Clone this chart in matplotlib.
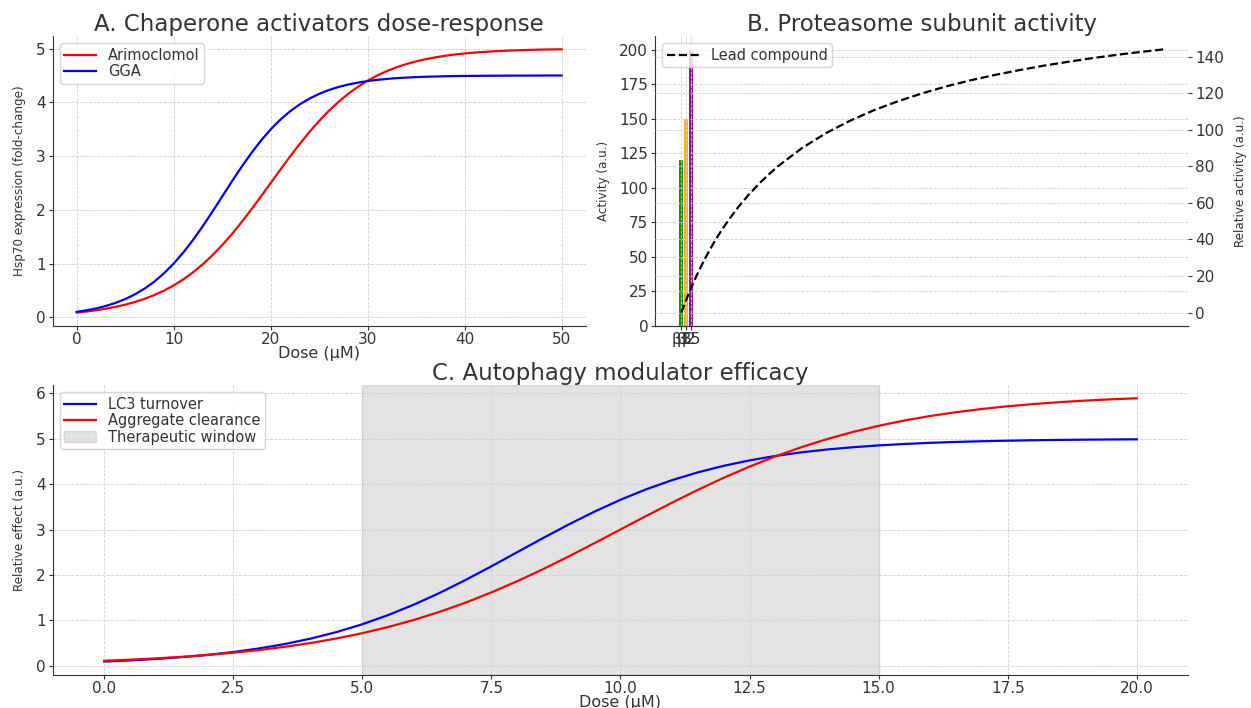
import matplotlib
matplotlib.use("Agg")
import matplotlib.pyplot as plt

# style close to the reference
plt.rcParams['font.family'] = 'DejaVu Sans'
plt.rcParams['text.color'] = '#333333'
plt.rcParams['axes.labelcolor'] = '#333333'
plt.rcParams['xtick.color'] = '#333333'
plt.rcParams['ytick.color'] = '#333333'
plt.rcParams['axes.edgecolor'] = '#333333'
plt.rcParams['axes.spines.top'] = False
plt.rcParams['axes.spines.right'] = False
plt.rcParams['grid.linestyle'] = '--'
plt.rcParams['grid.color'] = '#d0d0d0'
plt.rcParams['grid.linewidth'] = 0.6
plt.rcParams['xtick.labelsize'] = 11
plt.rcParams['ytick.labelsize'] = 11
plt.rcParams['xtick.major.pad'] = 1.5
plt.rcParams['ytick.major.pad'] = 2
plt.rcParams['xtick.major.size'] = 3
plt.rcParams['ytick.major.size'] = 3
plt.rcParams['legend.fontsize'] = 10.5
plt.rcParams['legend.labelspacing'] = 0.1
plt.rcParams['legend.borderpad'] = 0.3
plt.rcParams['legend.handlelength'] = 2.2

ylab = dict(fontsize=9.5, fontstretch='condensed', labelpad=7)

# A. Hsp70 fold-change vs dose
dose_a = list(range(0, 51))
arimoclomol = [0.090, 0.109, 0.133, 0.162, 0.196, 0.237, 0.287, 0.346, 0.416, 0.499,
               0.596, 0.709, 0.840, 0.989, 1.157, 1.345, 1.550, 1.772, 2.007, 2.251,
               2.500, 2.749, 2.994, 3.228, 3.450, 3.655, 3.843, 4.011, 4.160, 4.291,
               4.404, 4.501, 4.584, 4.654, 4.713, 4.763, 4.804, 4.838, 4.867, 4.891,
               4.910, 4.926, 4.939, 4.950, 4.959, 4.967, 4.973, 4.978, 4.982, 4.985,
               4.988]
gga = [0.103, 0.132, 0.168, 0.213, 0.270, 0.341, 0.429, 0.536, 0.666, 0.821,
       1.002, 1.210, 1.444, 1.699, 1.970, 2.250, 2.530, 2.801, 3.056, 3.290,
       3.498, 3.679, 3.834, 3.964, 4.071, 4.159, 4.230, 4.287, 4.332, 4.368,
       4.397, 4.419, 4.437, 4.451, 4.461, 4.470, 4.477, 4.482, 4.486, 4.489,
       4.492, 4.493, 4.495, 4.496, 4.497, 4.498, 4.498, 4.499, 4.499, 4.500,
       4.500]

# B. proteasome subunits + lead compound
subunits = ['β1', 'β2', 'β5']
subunit_activity = [120, 150, 200]
subunit_colors = ['green', 'orange', 'purple']
dose_b = [0, 1, 2, 3, 4, 5, 6, 7, 8, 9, 10, 12, 14, 16, 18, 20, 25, 30, 35, 40, 45,
          50, 55, 60, 65, 70, 75, 80, 85, 90, 95, 100]
lead_activity = [0, 6.9, 13.3, 19.3, 24.8, 30.0, 34.8, 39.4, 43.6, 47.6, 51.4, 58.4,
                 64.6, 70.2, 75.3, 80.0, 90.0, 98.2, 105.0, 110.8, 115.7, 120.0,
                 123.8, 127.1, 130.0, 132.6, 135.0, 137.1, 139.1, 140.9, 142.5, 144.0]

# C. autophagy modulator
dose_c = [0, 0.5, 1, 1.5, 2, 2.5, 3, 3.5, 4, 4.5, 5, 5.5, 6, 6.5, 7, 7.5, 8, 8.5, 9, 9.5,
          10, 10.5, 11, 11.5, 12, 12.5, 13, 13.5, 14, 14.5, 15, 15.5, 16, 16.5, 17,
          17.5, 18, 18.5, 19, 19.5, 20]
lc3 = [0.09, 0.115, 0.147, 0.187, 0.237, 0.30, 0.379, 0.477, 0.596, 0.74, 0.912, 1.114,
       1.345, 1.604, 1.888, 2.189, 2.50, 2.811, 3.112, 3.396, 3.655, 3.887, 4.088,
       4.26, 4.404, 4.523, 4.621, 4.70, 4.763, 4.813, 4.853, 4.885, 4.91, 4.93, 4.945,
       4.957, 4.967, 4.974, 4.98, 4.984, 4.988]
clearance = [0.108, 0.131, 0.16, 0.194, 0.235, 0.285, 0.344, 0.415, 0.499, 0.599,
             0.715, 0.851, 1.008, 1.187, 1.389, 1.614, 1.86, 2.126, 2.408, 2.701, 3.0,
             3.299, 3.592, 3.874, 4.14, 4.386, 4.611, 4.813, 4.992, 5.149, 5.285, 5.402,
             5.501, 5.585, 5.656, 5.715, 5.765, 5.806, 5.841, 5.869, 5.892]
window = (5, 15)

fig = plt.figure(figsize=(12.51, 7.08), dpi=100)
gs = fig.add_gridspec(2, 2, left=0.042, right=0.95, top=0.949, bottom=0.047,
                      hspace=0.205, wspace=0.13)
ax1 = fig.add_subplot(gs[0, 0])
ax2 = fig.add_subplot(gs[0, 1])
ax3 = fig.add_subplot(gs[1, :])

# --- A
ax1.plot(dose_a, arimoclomol, color='red', lw=1.6, label='Arimoclomol')
ax1.plot(dose_a, gga, color='blue', lw=1.6, label='GGA')
ax1.set_title('A. Chaperone activators dose-response', fontsize=16.5, pad=4)
ax1.set_xlabel('Dose (µM)', fontsize=11.5, labelpad=-1)
ax1.set_ylabel('Hsp70 expression (fold-change)', **ylab)
ax1.grid(True)
ax1.legend(loc='upper left')

# --- B
ax2.bar(range(len(subunits)), subunit_activity, color=subunit_colors, alpha=0.9, width=0.8)
ax2.set_xticks(range(len(subunits)))
ax2.set_xticklabels(subunits)
ax2.set_ylabel('Activity (a.u.)', **ylab)
ax2.set_title('B. Proteasome subunit activity', fontsize=16.5, pad=4)
ax2.grid(True)
ax2b = ax2.twinx()
ax2b.plot(dose_b, lead_activity, 'k--', lw=1.6, label='Lead compound')
ax2b.set_ylabel('Relative activity (a.u.)', fontsize=9.5, fontstretch='condensed', labelpad=7)
ax2b.spines['right'].set_visible(False)
ax2b.spines['left'].set_visible(False)
ax2b.grid(True)
ax2b.legend(loc='upper left')

# --- C
ax3.plot(dose_c, lc3, color='blue', lw=1.6, label='LC3 turnover')
ax3.plot(dose_c, clearance, color='red', lw=1.6, label='Aggregate clearance')
ax3.axvspan(window[0], window[1], color='grey', alpha=0.22, label='Therapeutic window')
ax3.set_title('C. Autophagy modulator efficacy', fontsize=16.5, pad=2)
ax3.set_xlabel('Dose (µM)', fontsize=11.5, labelpad=-1)
ax3.set_ylabel('Relative effect (a.u.)', **ylab)
ax3.grid(True)
ax3.legend(loc='upper left')

fig.savefig('out.png', dpi=100)
